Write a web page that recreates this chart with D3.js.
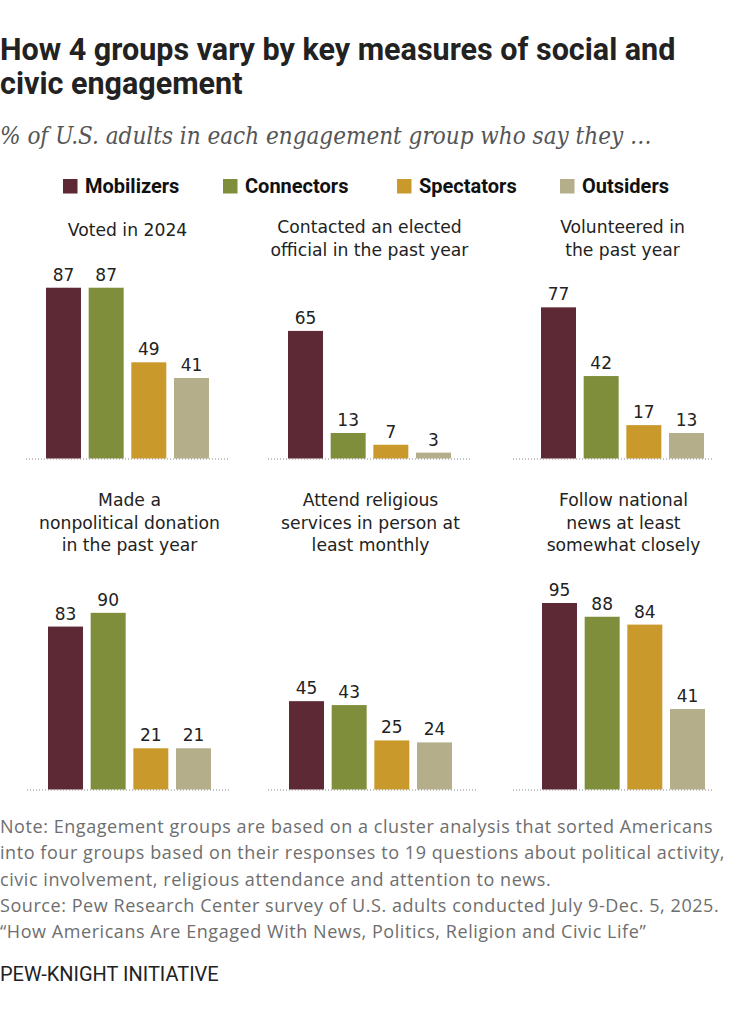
<!DOCTYPE html>
<html>
<head>
<meta charset="utf-8">
<script src="https://cdn.jsdelivr.net/npm/d3@7"></script>
<style>
  html, body { margin: 0; padding: 0; background: #fff; }
  svg { display: block; }
</style>
</head>
<body>
<svg id="chart" width="740" height="1024"></svg>
<script>
// ---- Data ----
const groups = ["Mobilizers", "Connectors", "Spectators", "Outsiders"];
const measures = [
  ["Voted in 2024"],
  ["Contacted an elected", "official in the past year"],
  ["Volunteered in", "the past year"],
  ["Made a", "nonpolitical donation", "in the past year"],
  ["Attend religious", "services in person at", "least monthly"],
  ["Follow national", "news at least", "somewhat closely"]
];
const mobilizers = [87, 65, 77, 83, 45, 95];
const connectors = [87, 13, 42, 90, 43, 88];
const spectators = [49, 7, 17, 21, 25, 84];
const outsiders  = [41, 3, 13, 21, 24, 41];

const titleLines = ["How 4 groups vary by key measures of social and", "civic engagement"];
const subtitle = "% of U.S. adults in each engagement group who say they \u2026";
const noteLines = [
  "Note: Engagement groups are based on a cluster analysis that sorted Americans",
  "into four groups based on their responses to 19 questions about political activity,",
  "civic involvement, religious attendance and attention to news.",
  "Source: Pew Research Center survey of U.S. adults conducted July 9-Dec. 5, 2025.",
  "\u201CHow Americans Are Engaged With News, Politics, Religion and Civic Life\u201D"
];
const creditText = "PEW-KNIGHT INITIATIVE";

// ---- Style / layout ----
const colors = ["#5c2935", "#7e8e3a", "#c9992b", "#b4af8a"];
const seriesValues = [mobilizers, connectors, spectators, outsiders];

const svg = d3.select("#chart");

// Title
svg.append("g").selectAll("text").data(titleLines).join("text")
  .attr("x", 0).attr("y", (d, i) => 60 + i * 34)
  .attr("font-family", "Roboto, 'Liberation Sans', sans-serif")
  .attr("font-weight", 700).attr("font-size", 30.5).attr("fill", "#222")
  .text(d => d);

// Subtitle
svg.append("text").attr("x", 0).attr("y", 144)
  .attr("font-family", "'DejaVu Serif', serif")
  .style("font-stretch", "condensed")
  .attr("font-style", "italic").attr("font-size", 24).attr("fill", "#555")
  .text(subtitle);

// Legend
const legendX = [63, 223, 397, 560];
const legend = svg.append("g").selectAll("g").data(groups).join("g")
  .attr("transform", (d, i) => `translate(${legendX[i]},0)`);
legend.append("rect").attr("x", 0).attr("y", 179).attr("width", 14.5).attr("height", 14.5)
  .attr("fill", (d, i) => colors[i]);
legend.append("text").attr("x", 22).attr("y", 192.5)
  .attr("font-family", "Roboto, 'Liberation Sans', sans-serif")
  .attr("font-weight", 700).attr("font-size", 20).attr("fill", "#111")
  .text(d => d);

// Panels
const rowBase = [458.5, 789.5];
const rowTitleY = [233, 506];
const barStart = [[46, 288, 541], [48, 289, 542]];
const dotStart = [[26, 268, 513], [27, 268, 513]];
const dotEnd = [[229, 472, 713], [229, 476, 713]];
const barsWidth = 163;
const pxPer100 = 196.3;

const x = d3.scaleBand().domain(groups).range([0, barsWidth]).paddingInner(0.18).paddingOuter(0);
const y = d3.scaleLinear().domain([0, 100]).range([pxPer100, 0]);

measures.forEach((lines, m) => {
  const row = Math.floor(m / 3), col = m % 3;
  const base = rowBase[row];
  const g = svg.append("g").attr("transform", `translate(${barStart[row][col]},${base - pxPer100})`);

  const data = groups.map((grp, i) => ({ grp, i, v: seriesValues[i][m] }));

  g.selectAll("rect.bar").data(data).join("rect").attr("class", "bar")
    .attr("x", d => x(d.grp)).attr("width", x.bandwidth())
    .attr("y", d => y(d.v)).attr("height", d => y(0) - y(d.v))
    .attr("fill", d => colors[d.i]);

  g.selectAll("text.val").data(data).join("text").attr("class", "val")
    .attr("x", d => x(d.grp) + x.bandwidth() / 2).attr("y", d => y(d.v) - 7)
    .attr("text-anchor", "middle")
    .attr("font-family", "'DejaVu Sans', Verdana, sans-serif")
    .attr("font-size", 17).attr("fill", "#222")
    .text(d => d.v);

  // dotted baseline
  svg.append("line")
    .attr("x1", dotStart[row][col]).attr("x2", dotEnd[row][col])
    .attr("y1", base + 0.5).attr("y2", base + 0.5)
    .attr("stroke", "#8a8a8a").attr("stroke-width", 1).attr("stroke-dasharray", "1,2");

  // panel title
  const cx = barStart[row][col] + barsWidth / 2;
  const ty0 = rowTitleY[row] + (lines.length === 1 ? 3 : 0);
  svg.append("g").selectAll("text").data(lines).join("text")
    .attr("x", cx).attr("y", (d, i) => ty0 + i * 22.5)
    .attr("text-anchor", "middle")
    .attr("font-family", "'DejaVu Sans', Verdana, sans-serif")
    .attr("font-size", 17.2).attr("fill", "#222")
    .text(d => d);
});

// Notes
svg.append("g").selectAll("text").data(noteLines).join("text")
  .attr("x", 0).attr("y", (d, i) => 833 + i * 26.3)
  .attr("font-family", "'Open Sans', Roboto, sans-serif")
  .attr("font-size", 18).attr("letter-spacing", 0.56).attr("fill", "#6e6e6e")
  .text(d => d);

// Credit
svg.append("text").attr("x", 0).attr("y", 981)
  .attr("font-family", "'Liberation Sans Narrow', Roboto, sans-serif")
  .attr("font-weight", 400).attr("font-size", 20).attr("fill", "#222")
  .text(creditText);
</script>
</body>
</html>
